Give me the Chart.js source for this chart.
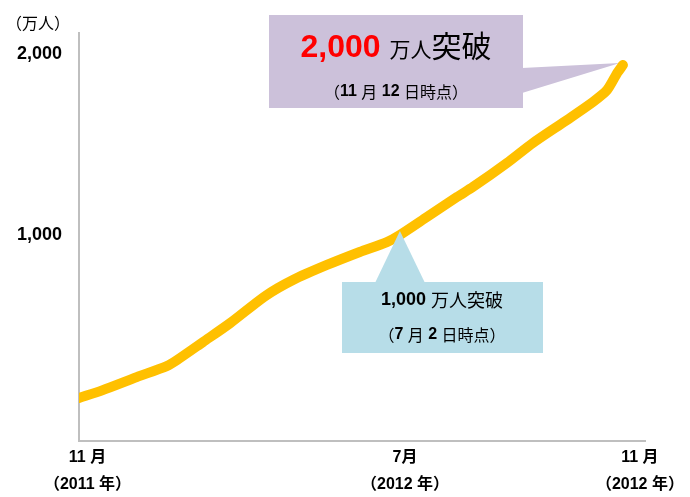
<!DOCTYPE html>
<html>
<head>
<meta charset="utf-8">
<script src="https://cdn.jsdelivr.net/npm/chart.js@4"></script>
<style>
    body { margin: 0; background: #fff; }
    #wrap { width: 690px; height: 497px; }
</style>
</head>
<body>
<div id="wrap"><canvas id="usersChart"></canvas></div>
<script>
// position along the (schematic) time axis, 0 = Nov 2011
const xPos = [0, 4.2, 10.2, 15.5, 17.3, 21.9, 26.7, 32.9, 37.8, 43.8, 49.6, 54.4, 56.7, 61.5, 66.8, 69.6, 75.6, 80.2, 86.2, 90.8, 93.3, 95.1, 96.1];
// users, 万人
const users = [97, 141, 213, 274, 307, 407, 512, 662, 751, 834, 906, 961, 1000, 1100, 1211, 1266, 1399, 1510, 1637, 1737, 1803, 1898, 1942];

const xTickPos = [1.5, 57.6, 99.1];
const xTickLabels = [["11 月", "（2011 年）"], ["7月", "（2012 年）"], ["11 月", "（2012 年）"]];
const yTicks = [1000, 2000];
const yTitle = "（万人）";

// milestones: index into data
const milestone1 = 12;  // 1,000万人 (7月2日)
const milestone2 = users.length - 1;  // 2,000万人 (11月12日)

const LATIN = "'Liberation Sans', Arial";
const CJK = "'Noto Sans CJK JP'";

// draw text made of several runs, centred on cx
function drawRuns(ctx, runs, cx, y, baseline) {
    ctx.textBaseline = baseline;
    ctx.textAlign = "left";
    let total = 0;
    runs.forEach(r => { ctx.font = r.font; total += ctx.measureText(r.text).width; });
    let x = cx - total / 2;
    runs.forEach(r => {
        ctx.font = r.font;
        ctx.fillStyle = r.color || "#000";
        ctx.fillText(r.text, x, y);
        x += ctx.measureText(r.text).width;
    });
}

const calloutPlugin = {
    id: "callouts",
    beforeDatasetsDraw(chart) {
        const ctx = chart.ctx;
        const xs = chart.scales.x, ys = chart.scales.y;
        ctx.save();

        // y axis unit
        ctx.font = "16px " + CJK;
        ctx.fillStyle = "#000";
        ctx.textBaseline = "middle";
        ctx.fillText(yTitle, 6, 23);

        // 2,000 callout
        const tx = xs.getPixelForValue(xPos[milestone2]) - 3;
        const ty = ys.getPixelForValue(users[milestone2]) - 2;
        ctx.fillStyle = "#CCC1DA";
        ctx.fillRect(269, 15, 254, 93);
        ctx.beginPath();
        ctx.moveTo(522, 68);
        ctx.lineTo(tx, ty);
        ctx.lineTo(522, 93);
        ctx.closePath();
        ctx.fill();

        drawRuns(ctx, [
            { text: "2,000", font: "bold 32px " + LATIN, color: "#FF0000" },
            { text: " ", font: "bold 32px " + LATIN },
            { text: "万人", font: "21px " + CJK },
            { text: "突破", font: "30px " + CJK }
        ], 396, 57, "alphabetic");
        drawRuns(ctx, [
            { text: "（", font: "16px " + CJK },
            { text: "11 ", font: "bold 16px " + LATIN },
            { text: "月", font: "16px " + CJK },
            { text: " 12 ", font: "bold 16px " + LATIN },
            { text: "日時点）", font: "16px " + CJK }
        ], 396, 92, "middle");
        ctx.restore();
    },
    afterDatasetsDraw(chart) {
        const ctx = chart.ctx;
        const xs = chart.scales.x, ys = chart.scales.y;
        ctx.save();

        // 1,000 callout
        const tx = xs.getPixelForValue(xPos[milestone1]);
        const ty = ys.getPixelForValue(users[milestone1]) - 4;
        ctx.fillStyle = "#B7DDE8";
        ctx.beginPath();
        ctx.moveTo(375, 283);
        ctx.lineTo(tx, ty);
        ctx.lineTo(425, 283);
        ctx.closePath();
        ctx.fill();
        ctx.fillRect(342, 282, 201, 71);

        drawRuns(ctx, [
            { text: "1,000 ", font: "bold 18px " + LATIN },
            { text: "万人突破", font: "18px " + CJK }
        ], 442, 300, "middle");
        drawRuns(ctx, [
            { text: "（", font: "16px " + CJK },
            { text: "7 ", font: "bold 16px " + LATIN },
            { text: "月", font: "16px " + CJK },
            { text: " 2 ", font: "bold 16px " + LATIN },
            { text: "日時点）", font: "16px " + CJK }
        ], 442, 335, "middle");
        ctx.restore();
    }
};

const ctx = document.getElementById("usersChart").getContext("2d");

const usersChart = new Chart(ctx, {
    type: "line",
    data: {
        datasets: [{
            label: "利用者数",
            data: xPos.map((x, i) => ({ x: x, y: users[i] })),
            borderColor: "#FFC000",
            borderWidth: 10,
            borderCapStyle: "round",
            borderJoinStyle: "round",
            tension: 0.25,
            pointRadius: 0,
            fill: false
        }]
    },
    options: {
        responsive: true,
        maintainAspectRatio: false,
        animation: false,
        layout: { padding: { top: 33, right: 45, left: 0, bottom: 0 } },
        plugins: {
            legend: { display: false },
            tooltip: { enabled: false }
        },
        scales: {
            x: {
                type: "linear",
                min: 0,
                max: 100,
                grid: { display: false, drawTicks: false },
                border: { color: "#BFBFBF", width: 2 },
                afterBuildTicks: (scale) => { scale.ticks = xTickPos.map(v => ({ value: v })); },
                afterFit: (scale) => { scale.height = 56; },
                ticks: {
                    autoSkip: false,
                    maxRotation: 0,
                    padding: 3,
                    color: "#000",
                    font: { family: LATIN + ", " + CJK, size: 16, weight: "bold", lineHeight: 1.7 },
                    callback: (v) => xTickLabels[xTickPos.indexOf(v)]
                }
            },
            y: {
                min: -141,
                max: 2119,
                grid: { display: false, drawTicks: false },
                border: { color: "#BFBFBF", width: 2 },
                afterBuildTicks: (scale) => { scale.ticks = yTicks.map(v => ({ value: v })); },
                afterFit: (scale) => { scale.width = 79; },
                ticks: {
                    padding: 17,
                    color: "#000",
                    font: { family: LATIN, size: 18, weight: "bold" },
                    callback: (v) => v.toLocaleString("en-US")
                }
            }
        }
    },
    plugins: [calloutPlugin]
});
</script>
</body>
</html>
